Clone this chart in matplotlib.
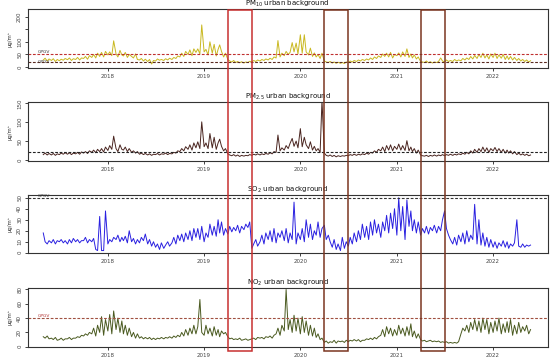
import matplotlib
matplotlib.use("Agg")
import matplotlib.pyplot as plt
import matplotlib.dates as mdates
import matplotlib.transforms as mtrans
from matplotlib.patches import Rectangle
import pandas as pd
import datetime as dt

# ---- data: 4 readings per month, May 2017 .. May 2022 ----
months = pd.date_range("2017-05-01", "2022-05-01", freq="MS")
days_in_month = [1, 8, 16, 23]
dates = [pd.Timestamp(m.year, m.month, d) for m in months for d in days_in_month]

pm10 = [
    # 2017 May-Dec
    28, 35, 24, 32, 26, 33, 22, 30, 25, 31, 27, 34, 29, 36, 26, 33,
    30, 38, 28, 36, 34, 42, 31, 45, 38, 50, 36, 55, 42, 58, 40, 62,
    # 2018
    48, 60, 45, 104, 52, 40, 66, 48, 44, 58, 38, 50, 42, 36, 52, 30,
    28, 34, 24, 31, 22, 30, 12, 26, 24, 32, 27, 30, 26, 33, 28, 35,
    30, 38, 34, 44, 40, 55, 42, 62, 50, 68, 45, 72, 58, 72, 52, 167,
    # 2019
    60, 70, 48, 100, 55, 90, 44, 70, 88, 62, 40, 55, 30, 24, 20, 26,
    18, 22, 17, 21, 16, 20, 18, 23, 20, 26, 22, 28, 24, 30, 26, 32,
    28, 35, 30, 40, 36, 105, 40, 55, 45, 62, 50, 58, 97, 60, 95, 52,
    # 2020
    128, 55, 128, 60, 48, 75, 42, 56, 40, 50, 34, 55, 24, 20, 18, 22,
    16, 20, 15, 19, 15, 18, 14, 20, 18, 24, 20, 26, 22, 28, 24, 30,
    26, 32, 28, 36, 30, 40, 34, 44, 38, 52, 42, 55, 40, 58, 36, 50,
    # 2021
    45, 56, 40, 60, 42, 72, 38, 52, 36, 48, 32, 40, 22, 20, 18, 24,
    17, 21, 16, 20, 18, 22, 36, 24, 20, 28, 22, 26, 22, 30, 24, 28,
    25, 34, 28, 36, 30, 42, 32, 46, 34, 50, 38, 55, 36, 48, 32, 52,
    # 2022 Jan-May
    38, 55, 34, 48, 35, 50, 30, 44, 30, 42, 28, 38, 26, 34, 24, 30,
    22, 28, 20, 25,
]

pm25 = [
    # 2017 May-Dec
    14, 18, 13, 17, 13, 17, 12, 16, 14, 18, 15, 19, 15, 19, 14, 18,
    16, 20, 15, 21, 18, 22, 17, 24, 20, 26, 19, 28, 22, 30, 21, 34,
    # 2018
    25, 38, 28, 63, 30, 22, 40, 28, 26, 34, 22, 30, 20, 24, 18, 22,
    15, 18, 14, 17, 13, 16, 12, 15, 14, 17, 13, 16, 15, 18, 14, 17,
    16, 20, 18, 24, 22, 30, 24, 35, 28, 40, 26, 45, 32, 48, 30, 101,
    # 2019
    35, 45, 30, 70, 32, 60, 28, 45, 55, 36, 24, 30, 16, 13, 11, 14,
    10, 13, 9, 12, 10, 12, 11, 14, 12, 15, 13, 16, 13, 16, 14, 17,
    15, 19, 16, 22, 20, 66, 24, 32, 26, 38, 30, 44, 57, 36, 50, 32,
    # 2020
    83, 35, 60, 40, 30, 48, 26, 36, 24, 30, 20, 158, 18, 12, 10, 13,
    9, 12, 8, 11, 9, 11, 10, 12, 11, 14, 12, 15, 12, 15, 13, 16,
    14, 18, 15, 20, 18, 24, 20, 28, 24, 34, 22, 38, 26, 40, 24, 36,
    # 2021
    28, 42, 26, 38, 25, 51, 24, 34, 22, 30, 18, 26, 13, 11, 10, 12,
    9, 12, 10, 13, 10, 13, 11, 14, 11, 14, 12, 15, 12, 15, 13, 16,
    14, 18, 15, 20, 16, 24, 18, 28, 20, 30, 22, 34, 22, 32, 20, 30,
    # 2022 Jan-May
    24, 33, 22, 30, 20, 28, 18, 26, 18, 24, 16, 22, 14, 18, 13, 16,
    12, 15, 11, 13,
]

so2 = [
    # 2017 May-Dec
    18, 10, 8, 11, 9, 12, 8, 11, 10, 12, 9, 11, 8, 12, 9, 13,
    10, 12, 9, 11, 11, 14, 9, 12, 10, 13, 3, 2, 33, 2, 2, 38,
    # 2018
    8, 12, 10, 14, 12, 16, 10, 14, 11, 15, 9, 20, 10, 13, 8, 12,
    9, 14, 11, 17, 8, 12, 6, 10, 5, 8, 3, 9, 4, 7, 10, 6,
    9, 14, 8, 16, 11, 17, 10, 18, 12, 20, 11, 22, 14, 22, 12, 24,
    # 2019
    10, 18, 14, 26, 16, 24, 15, 30, 18, 28, 16, 22, 17, 24, 19, 23,
    20, 25, 18, 24, 21, 26, 23, 28, 4, 8, 12, 6, 10, 16, 8, 18,
    12, 20, 10, 22, 9, 18, 14, 20, 11, 22, 9, 18, 12, 46, 8, 18,
    # 2020
    12, 22, 10, 30, 14, 26, 12, 20, 16, 28, 14, 22, 25, 12, 16, 10,
    5, 12, 3, 8, 2, 14, 4, 10, 6, 14, 8, 18, 10, 20, 12, 26,
    14, 24, 12, 28, 16, 30, 18, 26, 14, 28, 20, 34, 18, 36, 22, 40,
    # 2021
    16, 50, 20, 42, 12, 48, 24, 38, 20, 30, 18, 28, 16, 22, 18, 24,
    17, 23, 20, 25, 18, 24, 20, 30, 38, 22, 16, 12, 8, 14, 7, 16,
    10, 18, 8, 20, 10, 16, 12, 44, 8, 30, 7, 18, 6, 14, 5, 12,
    # 2022 Jan-May
    5, 10, 4, 9, 6, 11, 5, 10, 4, 8, 6, 9, 30, 6, 5, 8,
    5, 7, 6, 7,
]

no2 = [
    # 2017 May-Dec
    14, 12, 15, 11, 12, 10, 13, 9, 10, 12, 9, 11, 11, 13, 10, 12,
    12, 14, 13, 16, 15, 18, 16, 20, 18, 26, 15, 30, 20, 42, 16, 38,
    # 2018
    22, 45, 18, 50, 24, 40, 20, 36, 18, 30, 16, 26, 14, 20, 12, 18,
    12, 14, 11, 13, 11, 13, 10, 12, 10, 12, 11, 13, 11, 13, 12, 14,
    12, 15, 13, 16, 14, 20, 15, 24, 16, 26, 18, 30, 18, 28, 66, 20,
    # 2019
    16, 30, 18, 26, 15, 28, 16, 24, 14, 22, 18, 20, 14, 11, 12, 10,
    11, 10, 12, 9, 10, 11, 9, 10, 11, 12, 10, 13, 12, 13, 11, 14,
    13, 15, 12, 16, 18, 26, 16, 30, 22, 80, 24, 38, 20, 44, 22, 40,
    # 2020
    18, 42, 20, 36, 16, 30, 15, 26, 13, 18, 10, 12, 6, 8, 5, 7,
    6, 9, 5, 8, 7, 8, 6, 9, 7, 9, 8, 10, 8, 10, 7, 9,
    9, 11, 10, 12, 10, 13, 11, 14, 16, 24, 14, 28, 18, 26, 15, 24,
    # 2021
    16, 30, 18, 26, 15, 28, 16, 32, 14, 22, 12, 18, 10, 8, 9, 7,
    8, 9, 7, 8, 7, 8, 6, 7, 6, 7, 5, 6, 5, 6, 5, 7,
    18, 26, 22, 30, 20, 34, 24, 38, 22, 36, 20, 40, 24, 38, 18, 34,
    # 2022 Jan-May
    20, 36, 22, 40, 18, 32, 20, 35, 20, 38, 16, 30, 18, 34, 20, 28,
    22, 30, 18, 24,
]

year_ticks = [2018, 2019, 2020, 2021, 2022]
# spring windows (start, end)
windows = [("2019-04-01", "2019-07-01"), ("2020-04-01", "2020-07-01"), ("2021-04-01", "2021-07-01")]
window_colors = ["#c83030", "#7a3520", "#7a3520"]

panels = [
    dict(y=pm10, color="#c9b820", title=r"PM$_{10}$ urban background",
         ylim=(-5, 229), yticks=[0, 50, 100, 150, 200], ylabels=["0", "50", "100", "", "200"],
         refs=[(50, "#c03030"), (20, "#5a2a20")], gpgv=[(50, "#333333"), (20, "#333333")],
         rect=(27.7, 9.3, 68.3)),
    dict(y=pm25, color="#4a2520", title=r"PM$_{2.5}$ urban background",
         ylim=(-3, 153), yticks=[0, 50, 100, 150], ylabels=["0", "50", "100", "150"],
         refs=[(20, "#222222")], gpgv=[],
         rect=(27.7, 102.3, 161.0)),
    dict(y=so2, color="#2a20e0", title=r"SO$_{2}$ urban background",
         ylim=(-0.5, 52.5), yticks=[0, 10, 20, 30, 40, 50], ylabels=["0", "10", "20", "30", "40", "50"],
         refs=[(50, "#333333")], gpgv=[(50, "#333333")],
         rect=(27.7, 195.0, 253.3)),
    dict(y=no2, color="#4a5a20", title=r"NO$_{2}$ urban background",
         ylim=(-0.8, 82.5), yticks=[0, 20, 40, 60, 80], ylabels=["0", "20", "40", "60", "80"],
         refs=[(40, "#a05040")], gpgv=[(40, "#b03030")],
         rect=(27.7, 287.7, 347.3)),
]

W, H = 550, 361
fig = plt.figure(figsize=(W / 100, H / 100), dpi=100)
fig.patch.set_facecolor("white")

xmin = mdates.date2num(dt.datetime(2017, 3, 3))
xmax = mdates.date2num(dt.datetime(2022, 7, 27))

axes = []
for p in panels:
    left, top, bot = p["rect"]
    ax = fig.add_axes([left / W, 1 - bot / H, 520 / W, (bot - top) / H])
    ax.plot(dates, p["y"], color=p["color"], lw=0.7)
    for val, c in p["refs"]:
        ax.axhline(val, color=c, lw=0.8, ls=(0, (2.5, 1.5)))
    for val, c in p["gpgv"]:
        ax.text(mdates.date2num(dt.datetime(2017, 4, 10)), val, "GPGV", fontsize=3.2,
                color=c, va="bottom" if val > 30 else "center", ha="left")
    ax.set_xlim(xmin, xmax)
    ax.set_ylim(*p["ylim"])
    ax.set_xticks([mdates.date2num(dt.datetime(y, 1, 1)) for y in year_ticks])
    ax.set_xticklabels([str(y) for y in year_ticks])
    ax.set_yticks(p["yticks"])
    ax.set_yticklabels(p["ylabels"], rotation=90, va="center")
    ax.tick_params(axis="both", labelsize=4, length=2.5, width=0.6, colors="#222222",
                   labelcolor="#444444", pad=1.5)
    for s in ax.spines.values():
        s.set_linewidth(0.8)
        s.set_color("#333333")
    ax.set_title(p["title"], fontsize=5.0, pad=0.6, color="#111111")
    ax.set_ylabel("μg/m³", fontsize=3.8, labelpad=3, color="#333333")
    axes.append(ax)

# rectangles spanning all panels
trans = mtrans.blended_transform_factory(axes[-1].transData, fig.transFigure)
y0 = 1 - 350.7 / H
y1 = 1 - 9.5 / H
for (a, b), c in zip(windows, window_colors):
    xa = mdates.date2num(pd.Timestamp(a))
    xb = mdates.date2num(pd.Timestamp(b))
    r = Rectangle((xa, y0), xb - xa, y1 - y0, transform=trans, fill=False,
                  edgecolor=c, lw=1.1, zorder=10, clip_on=False)
    fig.add_artist(r)

fig.savefig("out.png", dpi=100)
